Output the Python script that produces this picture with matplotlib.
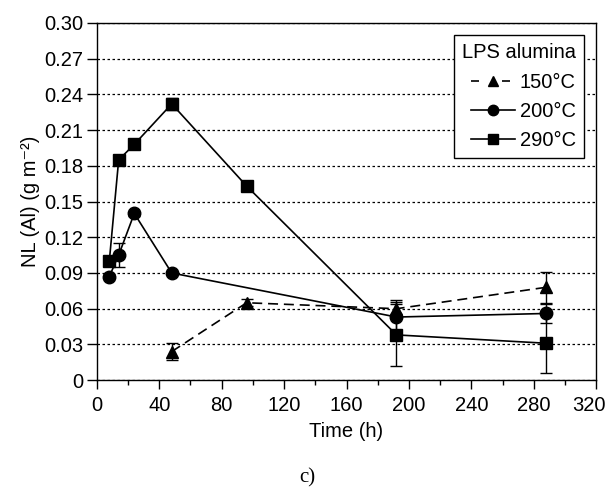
import numpy as np
import matplotlib
matplotlib.use('Agg')
import matplotlib.pyplot as plt
from matplotlib.lines import Line2D
from matplotlib.ticker import MultipleLocator

plt.rcParams['font.family'] = ['Liberation Sans', 'DejaVu Sans']
FS = 14.5

# NL(Al) release over time for LPS alumina at three temperatures
t_150 = [48, 96, 192, 288]
nl_150 = [0.024, 0.065, 0.060, 0.078]
err_150 = [0.007, 0.003, 0.007, 0.013]

t_200 = [8, 14, 24, 48, 192, 288]
nl_200 = [0.087, 0.105, 0.140, 0.090, 0.053, 0.056]
err_200 = [0.002, 0.010, 0.002, 0.002, 0.013, 0.008]

t_290 = [8, 14, 24, 48, 96, 192, 288]
nl_290 = [0.100, 0.185, 0.198, 0.232, 0.163, 0.038, 0.031]
err_290 = [0.002, 0.002, 0.002, 0.005, 0.002, 0.026, 0.025]

series_labels = ['150°C', '200°C', '290°C']
x_ticks = [0, 40, 80, 120, 160, 200, 240, 280, 320]

fig = plt.figure(figsize=(6.09, 4.88), dpi=100)
ax = fig.add_axes([0.159, 0.221, 0.820, 0.732])

dash = (0, (6, 3.5))
common = dict(color='black', ecolor='black', elinewidth=1.0, capsize=4,
              capthick=1.0, linewidth=1.2, markersize=9)
ax.errorbar(t_150, nl_150, yerr=err_150, fmt='^', linestyle=dash, **common)
ax.errorbar(t_200, nl_200, yerr=err_200, fmt='o', linestyle='-', **common)
ax.errorbar(t_290, nl_290, yerr=err_290, fmt='s', linestyle='-', **common)

ax.set_xlim(0, 320)
ax.set_ylim(0, 0.30)
ax.set_xticks(x_ticks)
# last label is drawn separately, pulled in a little so it is not clipped
ax.set_xticklabels([str(v) for v in x_ticks[:-1]] + [''])
ax.xaxis.set_minor_locator(MultipleLocator(20))
ax.set_yticks(np.arange(0, 0.31, 0.03))
ax.set_yticklabels(['0'] + [f'{v:.2f}' for v in np.arange(0.03, 0.31, 0.03)])
ax.tick_params(which='both', direction='out', labelsize=FS, width=1.0)
ax.tick_params(axis='x', which='major', length=6.5, pad=5)
ax.tick_params(axis='x', which='minor', length=3.6)
ax.tick_params(axis='y', which='major', length=7, pad=3)
for s in ax.spines.values():
    s.set_linewidth(1.0)

ax.annotate(str(x_ticks[-1]), xy=(x_ticks[-1], 0), xycoords=('data', 'axes fraction'),
            xytext=(-5, -11.5), textcoords='offset points',
            ha='center', va='top', fontsize=FS)

ax.yaxis.grid(True, linestyle=(0, (2, 2)), color='black', linewidth=0.9)
ax.set_axisbelow(True)

ax.set_xlabel('Time (h)', fontsize=FS, labelpad=5)
ax.set_ylabel('NL (Al) (g m\u207b\u00b2)', fontsize=FS, labelpad=3)

# legend shows line + marker only, no error bars
lkw = dict(color='black', markersize=7.5, linewidth=1.2)
handles = [
    Line2D([], [], linestyle=(0, (4.8, 13.8)), marker='^', **lkw),
    Line2D([], [], linestyle='-', marker='o', **lkw),
    Line2D([], [], linestyle='-', marker='s', **lkw),
]
leg = ax.legend(handles, series_labels, title='LPS alumina', loc='upper right',
                fontsize=FS, title_fontsize=FS, fancybox=False, framealpha=1,
                edgecolor='black', handlelength=2.2, borderaxespad=0.6,
                labelspacing=0.5, handletextpad=0.25, borderpad=0.4)
leg.get_frame().set_linewidth(1.0)
leg._legend_box.align = 'right'
leg._legend_box.sep = 8

fig.text(0.505, 0.012, 'c)', ha='center', fontsize=15, family='Liberation Serif')

fig.savefig('out.png', dpi=100)
